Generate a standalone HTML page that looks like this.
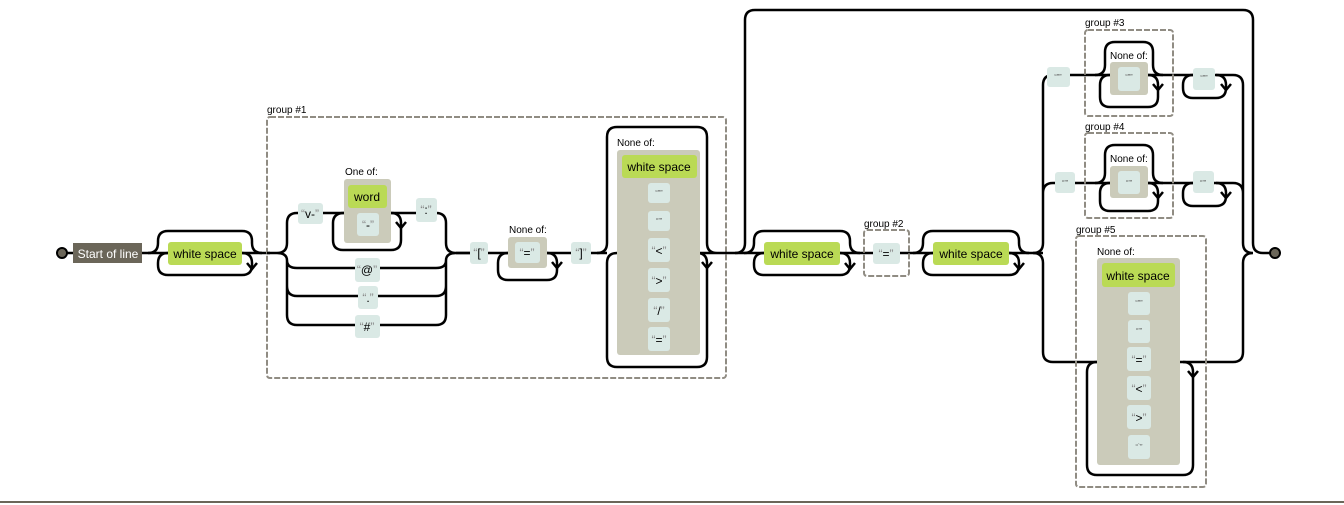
<!DOCTYPE html>
<html><head><meta charset="utf-8"><style>
body{margin:0;background:#fff;width:1344px;height:505px;overflow:hidden}
svg{display:block}
text{font-family:"Liberation Sans",Arial,sans-serif}
.p{fill:none;stroke:#000;stroke-width:2.5}
.lit{fill:#dae9e5}
.cs{fill:#cbcbba}
.gr{fill:#bada55}
.g{fill:none;stroke:#908c83;stroke-width:2;stroke-dasharray:6,2}
.lbl{font-size:10px}
.t{font-size:12px}
.q{fill:#888}
</style></head><body>
<svg width="1344" height="505" viewBox="0 0 1344 505">
<path class="p" d="M62,253H168M242,253H270"/>
<circle cx="62" cy="253" r="5" fill="#6b6659" stroke="#000" stroke-width="2"/>
<rect x="73" y="243" width="69" height="20" fill="#6b6659"/>
<text x="108" y="258" fill="#fff" font-size="12" text-anchor="middle">Start of line</text>
<path class="p" d="M148,253q10,0 10,-10V241q0,-10 10,-10H242q10,0 10,10v2q0,10 10,10M242,253q10,0 10,10v2q0,10 -10,10H168q-10,0 -10,-10v-2q0,-10 10,-10"/>
<path class="p" d="M247,263l5,6l5,-6"/>
<rect class="gr" x="168" y="242" width="74" height="23" rx="3"/>
<text x="205" y="258" font-size="12" text-anchor="middle">white space</text>

<rect class="g" x="267" y="117" width="459" height="261" rx="3"/>
<text class="lbl" x="267" y="113">group #1</text>
<path class="p" d="M267,253H277q10,0 10,-10V223q0,-10 10,-10H436q10,0 10,10V243q0,10 10,10H470
M277,253q10,0 10,7.5q0,7.5 10,7.5H436q10,0 10,-7.5q0,-7.5 10,-7.5
M287,260V286q0,10 10,10H436q10,0 10,-10V260
M287,280V315q0,10 10,10H436q10,0 10,-10V280"/>
<rect class="lit" x="298" y="203" width="25" height="21" rx="3"/>
<text class="t" x="310" y="218" text-anchor="middle"><tspan class="q">“</tspan>v-<tspan class="q">”</tspan></text>
<path class="p" d="M344,213q-11,0 -11,10V240q0,10 10,10H391q10,0 10,-10V223q0,-10 -10,-10"/>
<path class="p" d="M396,222l5,6l5,-6"/>
<text class="lbl" x="345" y="175">One of:</text>
<rect class="cs" x="344" y="179" width="47" height="64" rx="3"/>
<rect class="gr" x="348" y="185" width="39" height="23" rx="3"/>
<text x="367" y="201" font-size="12" text-anchor="middle">word</text>
<rect class="lit" x="357" y="213" width="22" height="23" rx="3"/>
<text class="t" x="368" y="229" text-anchor="middle"><tspan class="q">“</tspan>-<tspan class="q">”</tspan></text>
<rect class="lit" x="416" y="198" width="21" height="24" rx="3"/>
<text class="t" x="426" y="214" text-anchor="middle"><tspan class="q">“</tspan>:<tspan class="q">”</tspan></text>
<rect class="lit" x="355" y="258" width="25" height="24" rx="3"/>
<text class="t" x="367" y="274" text-anchor="middle"><tspan class="q">“</tspan>@<tspan class="q">”</tspan></text>
<rect class="lit" x="358" y="286" width="20" height="23" rx="3"/>
<text class="t" x="368" y="302" text-anchor="middle"><tspan class="q">“</tspan>.<tspan class="q">”</tspan></text>
<rect class="lit" x="355" y="315" width="25" height="23" rx="3"/>
<text class="t" x="367" y="331" text-anchor="middle"><tspan class="q">“</tspan>#<tspan class="q">”</tspan></text>
<path class="p" d="M456,253H607"/>
<rect class="lit" x="470" y="242" width="18" height="22" rx="3"/>
<text class="t" x="479" y="257" text-anchor="middle"><tspan class="q">“</tspan>[<tspan class="q">”</tspan></text>
<path class="p" d="M508,253q-10,0 -10,10v7q0,10 10,10H547q10,0 10,-10v-7q0,-10 -10,-10"/>
<path class="p" d="M552,262l5,6l5,-6"/>
<text class="lbl" x="509" y="233">None of:</text>
<rect class="cs" x="508" y="237" width="39" height="31" rx="3"/>
<rect class="lit" x="515" y="242" width="25" height="21" rx="3"/>
<text class="t" x="527" y="257" text-anchor="middle"><tspan class="q">“</tspan>=<tspan class="q">”</tspan></text>
<rect class="lit" x="571" y="242" width="20" height="22" rx="3"/>
<text class="t" x="581" y="257" text-anchor="middle"><tspan class="q">“</tspan>]<tspan class="q">”</tspan></text>
<path class="p" d="M597,253q10,0 10,-10V137q0,-10 10,-10H697q10,0 10,10V243q0,10 10,10M617,253q-10,0 -10,10V357q0,10 10,10H697q10,0 10,-10V263q0,-10 -10,-10M697,253H745"/>
<path class="p" d="M702,262l5,6l5,-6"/>
<text class="lbl" x="617" y="146">None of:</text>
<rect class="cs" x="617" y="150" width="83" height="205" rx="3"/>
<rect class="gr" x="622" y="155" width="75" height="23" rx="3"/>
<text x="659" y="171" font-size="12" text-anchor="middle">white space</text>
<rect class="lit" x="648" y="183" width="22" height="20" rx="3"/><text x="659" y="195" font-size="7" text-anchor="middle" fill="#555">“"”</text>
<rect class="lit" x="648" y="211" width="22" height="20" rx="3"/><text x="659" y="223" font-size="7" text-anchor="middle" fill="#555">“'”</text>
<rect class="lit" x="648" y="238" width="22" height="24" rx="3"/><text class="t" x="659" y="255" text-anchor="middle"><tspan class="q">“</tspan>&lt;<tspan class="q">”</tspan></text>
<rect class="lit" x="648" y="268" width="22" height="24" rx="3"/><text class="t" x="659" y="285" text-anchor="middle"><tspan class="q">“</tspan>&gt;<tspan class="q">”</tspan></text>
<rect class="lit" x="648" y="298" width="22" height="24" rx="3"/><text class="t" x="659" y="315" text-anchor="middle"><tspan class="q">“</tspan>/<tspan class="q">”</tspan></text>
<rect class="lit" x="648" y="327" width="22" height="24" rx="3"/><text class="t" x="659" y="344" text-anchor="middle"><tspan class="q">“</tspan>=<tspan class="q">”</tspan></text>

<path class="p" d="M735,253q10,0 10,-10V20q0,-10 10,-10H1243q10,0 10,10V243q0,10 10,10H1275"/>
<path class="p" d="M745,253H1043"/>
<path class="p" d="M744,253q10,0 10,-10V241q0,-10 10,-10H840q10,0 10,10v2q0,10 10,10M840,253q10,0 10,10v2q0,10 -10,10H764q-10,0 -10,-10v-2q0,-10 10,-10"/>
<path class="p" d="M845,263l5,6l5,-6"/>
<rect class="gr" x="764" y="242" width="76" height="23" rx="3"/>
<text x="802" y="258" font-size="12" text-anchor="middle">white space</text>
<rect class="g" x="864" y="230" width="45" height="46" rx="3"/>
<text class="lbl" x="864" y="227">group #2</text>
<rect class="lit" x="873" y="243" width="27" height="21" rx="3"/>
<text class="t" x="886" y="258" text-anchor="middle"><tspan class="q">“</tspan>=<tspan class="q">”</tspan></text>
<path class="p" d="M913,253q10,0 10,-10V241q0,-10 10,-10H1009q10,0 10,10v2q0,10 10,10M1009,253q10,0 10,10v2q0,10 -10,10H933q-10,0 -10,-10v-2q0,-10 10,-10"/>
<path class="p" d="M1014,263l5,6l5,-6"/>
<rect class="gr" x="933" y="242" width="76" height="23" rx="3"/>
<text x="971" y="258" font-size="12" text-anchor="middle">white space</text>

<path class="p" d="M1033,253q10,0 10,-10V85q0,-10 10,-10H1233q10,0 10,10V243q0,10 10,10
M1043,200V193q0,-10 10,-10H1233q10,0 10,10V200
M1033,253q10,0 10,10V352q0,10 10,10H1233q10,0 10,-10V263q0,-10 10,-10"/>
<rect class="g" x="1085" y="30" width="88" height="86" rx="3"/>
<text class="lbl" x="1085" y="26">group #3</text>
<rect class="lit" x="1047" y="67" width="23" height="20" rx="3"/><text x="1058" y="79" font-size="7" text-anchor="middle" fill="#555">“"”</text>
<path class="p" d="M1095,75q10,0 10,-10V52q0,-10 10,-10H1143q10,0 10,10V65q0,10 10,10M1110,75q-10,0 -10,10v12q0,10 10,10H1148q10,0 10,-10v-12q0,-10 -10,-10"/>
<path class="p" d="M1153,84l5,6l5,-6"/>
<text class="lbl" x="1110" y="59">None of:</text>
<rect class="cs" x="1110" y="62" width="38" height="33" rx="3"/>
<rect class="lit" x="1118" y="67" width="22" height="24" rx="3"/><text x="1129" y="79" font-size="7" text-anchor="middle" fill="#555">“"”</text>
<path class="p" d="M1193,75q-10,0 -10,10v3q0,10 10,10H1216q10,0 10,-10v-3q0,-10 -10,-10"/>
<path class="p" d="M1221,84l5,6l5,-6"/>
<rect class="lit" x="1193" y="68" width="22" height="22" rx="3"/><text x="1204" y="80" font-size="7" text-anchor="middle" fill="#555">“"”</text>
<rect class="g" x="1085" y="133" width="88" height="85" rx="3"/>
<text class="lbl" x="1085" y="130">group #4</text>
<rect class="lit" x="1055" y="172" width="20" height="21" rx="3"/><text x="1065" y="185" font-size="7" text-anchor="middle" fill="#555">“'”</text>
<path class="p" d="M1095,183q10,0 10,-10V155q0,-10 10,-10H1143q10,0 10,10V173q0,10 10,10M1110,183q-10,0 -10,10v8q0,10 10,10H1148q10,0 10,-10v-8q0,-10 -10,-10"/>
<path class="p" d="M1153,192l5,6l5,-6"/>
<text class="lbl" x="1110" y="162">None of:</text>
<rect class="cs" x="1110" y="166" width="38" height="32" rx="3"/>
<rect class="lit" x="1118" y="171" width="22" height="23" rx="3"/><text x="1129" y="185" font-size="7" text-anchor="middle" fill="#555">“'”</text>
<path class="p" d="M1193,183q-10,0 -10,10v3q0,10 10,10H1216q10,0 10,-10v-3q0,-10 -10,-10"/>
<path class="p" d="M1221,192l5,6l5,-6"/>
<rect class="lit" x="1193" y="171" width="21" height="22" rx="3"/><text x="1203" y="185" font-size="7" text-anchor="middle" fill="#555">“'”</text>
<rect class="g" x="1076" y="236" width="130" height="251" rx="3"/>
<text class="lbl" x="1076" y="233">group #5</text>
<path class="p" d="M1097,362q-10,0 -10,10V465q0,10 10,10H1183q10,0 10,-10V372q0,-10 -10,-10"/>
<path class="p" d="M1188,371l5,6l5,-6"/>
<text class="lbl" x="1097" y="255">None of:</text>
<rect class="cs" x="1097" y="258" width="83" height="207" rx="3"/>
<rect class="gr" x="1102" y="263" width="73" height="24" rx="3"/>
<text x="1138" y="280" font-size="12" text-anchor="middle">white space</text>
<rect class="lit" x="1128" y="292" width="22" height="23" rx="3"/><text x="1139" y="305" font-size="7" text-anchor="middle" fill="#555">“"”</text>
<rect class="lit" x="1128" y="320" width="22" height="23" rx="3"/><text x="1139" y="333" font-size="7" text-anchor="middle" fill="#555">“'”</text>
<rect class="lit" x="1127" y="347" width="24" height="24" rx="3"/><text class="t" x="1139" y="364" text-anchor="middle"><tspan class="q">“</tspan>=<tspan class="q">”</tspan></text>
<rect class="lit" x="1127" y="376" width="24" height="24" rx="3"/><text class="t" x="1139" y="393" text-anchor="middle"><tspan class="q">“</tspan>&lt;<tspan class="q">”</tspan></text>
<rect class="lit" x="1127" y="405" width="24" height="24" rx="3"/><text class="t" x="1139" y="422" text-anchor="middle"><tspan class="q">“</tspan>&gt;<tspan class="q">”</tspan></text>
<rect class="lit" x="1128" y="435" width="22" height="24" rx="3"/><text x="1139" y="449" font-size="7" text-anchor="middle" fill="#555">“`”</text>
<circle cx="1275" cy="253" r="5" fill="#6b6659" stroke="#000" stroke-width="2"/>
<rect x="0" y="501" width="1344" height="2" fill="#6b6659"/>
</svg>
</body></html>
